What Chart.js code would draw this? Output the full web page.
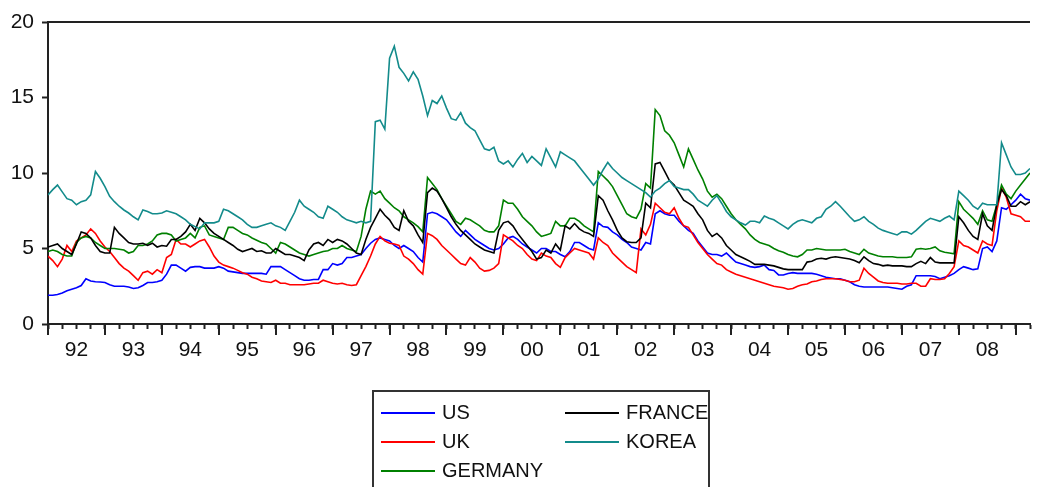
<!DOCTYPE html>
<html>
<head>
<meta charset="utf-8">
<script src="https://cdn.jsdelivr.net/npm/chart.js@4.4.1/dist/chart.umd.min.js"></script>
<style>
  html, body { margin: 0; padding: 0; background: #fff; overflow: hidden; }
  #wrap { position: relative; width: 1039px; height: 487px; }
  #chart { position: absolute; left: 0; top: 0; }
  #legend {
    position: absolute; left: 372px; top: 390px; width: 338px; height: 120px;
    border: 2px solid #333; box-sizing: border-box; padding: 6px 0 0 7px;
    display: grid; grid-template-columns: 184px 145px; grid-template-rows: repeat(3, 29px);
    grid-auto-flow: column; font: 20px "Liberation Sans", Arial, sans-serif; color: #111;
  }
  #legend .item { display: flex; align-items: center; white-space: nowrap; }
  #legend .swatch { flex: 0 0 54px; height: 2px; margin-right: 7px; }
</style>
</head>
<body>
<div id="wrap">
  <canvas id="chart" width="1039" height="487"></canvas>
  <div id="legend"></div>
</div>
<script>
  // monthly, 1992m1 .. 2009m4
  const yearLabels = ['92','93','94','95','96','97','98','99','00','01','02','03','04','05','06','07','08'];
  const yTicks = [0, 5, 10, 15, 20];

  const US = [
    1.9,1.9,1.95,2.05,2.2,2.3,2.4,2.55,3.0,2.85,2.8,2.78,
    2.75,2.6,2.5,2.5,2.5,2.45,2.35,2.4,2.55,2.75,2.75,2.8,
    2.9,3.3,3.9,3.9,3.7,3.5,3.75,3.8,3.8,3.7,3.7,3.7,
    3.8,3.7,3.5,3.45,3.4,3.35,3.35,3.35,3.35,3.35,3.3,3.8,
    3.8,3.8,3.6,3.4,3.2,3.0,2.9,2.9,2.95,2.95,3.6,3.6,
    4.0,3.9,4.0,4.4,4.4,4.5,4.6,5.0,5.35,5.6,5.7,5.6,
    5.5,5.2,5.0,5.2,5.0,4.8,4.4,4.1,7.3,7.4,7.3,7.1,
    6.9,6.5,6.1,5.8,6.2,5.9,5.6,5.4,5.2,5.0,4.9,5.0,
    5.3,5.7,5.8,5.6,5.3,5.1,4.9,4.7,5.0,5.0,4.8,4.8,
    4.6,4.45,4.8,5.4,5.4,5.2,5.0,4.9,6.7,6.45,6.4,6.1,
    5.9,5.6,5.4,5.1,5.0,4.9,5.4,5.3,7.3,7.5,7.3,7.2,
    7.2,6.8,6.5,6.2,6.0,5.5,5.1,4.7,4.6,4.6,4.5,4.7,
    4.4,4.1,4.0,3.9,3.8,3.75,3.8,3.9,3.6,3.55,3.25,3.25,
    3.35,3.4,3.35,3.35,3.35,3.35,3.3,3.2,3.1,3.05,3.0,3.0,
    2.9,2.8,2.6,2.5,2.45,2.45,2.45,2.45,2.45,2.45,2.4,2.35,
    2.3,2.5,2.6,3.2,3.2,3.2,3.2,3.15,3.0,3.1,3.2,3.35,
    3.6,3.8,3.7,3.6,3.65,5.0,5.1,4.8,5.5,7.7,7.6,7.9,
    8.2,8.6,8.3,8.2
  ];
  const UK = [
    4.5,4.2,3.8,4.3,5.2,4.8,5.5,5.7,5.9,6.3,6.0,5.5,
    5.1,4.8,4.4,4.0,3.7,3.5,3.2,2.9,3.4,3.5,3.3,3.6,
    3.4,4.4,4.6,5.6,5.3,5.3,5.1,5.3,5.5,5.6,5.1,4.5,
    4.1,3.9,3.8,3.7,3.55,3.4,3.3,3.1,3.0,2.85,2.8,2.75,
    2.9,2.7,2.7,2.6,2.6,2.6,2.6,2.65,2.7,2.7,2.9,2.8,
    2.7,2.65,2.7,2.6,2.55,2.6,3.2,3.8,4.5,5.3,5.8,5.5,
    5.35,5.3,5.2,4.5,4.3,4.0,3.6,3.3,6.0,5.85,5.6,5.2,
    4.9,4.6,4.3,4.0,3.9,4.4,4.1,3.7,3.5,3.55,3.7,4.0,
    5.9,5.7,5.5,5.2,5.0,4.6,4.3,4.2,4.7,4.5,4.4,4.0,
    3.75,4.4,4.7,5.0,4.9,4.8,4.7,4.3,5.7,5.4,5.2,4.7,
    4.4,4.1,3.8,3.6,3.4,6.3,5.9,6.6,8.0,7.7,7.4,7.3,
    7.7,7.0,6.5,6.4,5.9,5.4,5.0,4.6,4.3,4.0,3.9,3.6,
    3.45,3.3,3.2,3.1,3.0,2.9,2.8,2.7,2.6,2.5,2.45,2.4,
    2.3,2.35,2.5,2.6,2.65,2.8,2.85,2.95,3.0,3.0,3.0,2.95,
    2.9,2.8,2.8,2.9,3.7,3.35,3.1,2.85,2.75,2.7,2.7,2.7,
    2.65,2.65,2.7,2.7,2.5,2.5,3.0,2.95,2.95,3.0,3.35,3.8,
    5.5,5.2,5.1,4.9,4.7,5.5,5.3,5.2,7.5,9.0,8.4,7.3,
    7.2,7.1,6.8,6.8
  ];
  const GERMANY = [
    4.8,4.9,4.8,4.6,4.5,4.5,5.4,5.7,5.8,5.7,5.4,5.2,
    5.0,5.0,5.0,4.95,4.9,4.7,4.8,5.2,5.2,5.3,5.5,5.9,
    6.0,6.0,5.9,5.5,5.6,5.7,6.0,5.7,6.4,6.5,5.9,5.8,
    5.7,5.6,6.4,6.4,6.2,6.0,5.9,5.7,5.55,5.4,5.3,5.0,
    4.7,5.4,5.3,5.1,4.9,4.7,4.6,4.5,4.6,4.7,4.8,4.85,
    5.0,5.0,5.2,5.0,4.9,4.8,5.8,7.6,8.8,8.6,8.8,8.3,
    8.0,7.7,7.5,7.1,6.9,6.7,6.45,6.1,9.7,9.3,8.9,8.3,
    7.8,7.3,6.8,6.6,7.0,6.9,6.7,6.5,6.2,6.1,6.1,6.5,
    8.2,8.0,8.0,7.6,7.1,6.8,6.5,6.1,5.8,5.9,6.0,6.8,
    6.5,6.5,7.0,7.0,6.8,6.5,6.3,6.1,10.1,9.8,9.5,9.1,
    8.5,7.9,7.3,7.1,7.0,7.6,9.3,9.0,14.2,13.8,12.8,12.5,
    12.0,11.2,10.4,11.6,10.9,10.2,9.6,8.8,8.4,8.6,8.3,7.8,
    7.3,6.9,6.6,6.3,5.9,5.6,5.4,5.3,5.2,5.0,4.85,4.75,
    4.6,4.5,4.45,4.6,4.9,4.9,5.0,4.95,4.9,4.9,4.9,4.9,
    4.95,4.8,4.7,4.6,4.95,4.7,4.6,4.5,4.45,4.45,4.45,4.4,
    4.4,4.4,4.45,4.95,5.0,4.95,5.0,5.1,4.85,4.75,4.7,4.65,
    8.1,7.6,7.3,7.0,6.6,7.5,6.9,6.8,7.9,9.2,8.6,8.3,
    8.8,9.2,9.6,10.0
  ];
  const FRANCE = [
    5.1,5.2,5.3,5.0,4.8,4.6,5.3,6.1,6.0,5.7,5.2,4.8,
    4.7,4.7,6.4,6.0,5.7,5.4,5.3,5.3,5.35,5.2,5.35,5.1,
    5.2,5.15,5.6,5.6,5.8,6.1,6.6,6.2,7.0,6.7,6.3,6.0,
    5.8,5.6,5.4,5.2,4.95,4.8,4.9,5.0,4.8,4.85,4.7,4.7,
    5.0,4.8,4.6,4.6,4.5,4.4,4.2,4.9,5.3,5.4,5.2,5.6,
    5.4,5.6,5.5,5.3,5.0,4.7,4.6,5.6,6.4,7.0,7.6,7.2,
    6.9,6.4,6.2,7.5,6.8,6.5,5.9,5.4,8.7,9.0,8.8,8.3,
    7.7,7.1,6.6,6.2,5.9,5.6,5.3,5.1,4.9,4.8,4.7,6.2,
    6.7,6.8,6.5,6.0,5.6,5.2,4.8,4.3,4.4,4.9,4.7,5.3,
    4.9,6.5,6.3,6.65,6.3,6.1,6.0,5.8,8.5,8.2,7.5,6.9,
    6.2,5.7,5.45,5.4,5.4,5.7,8.0,7.7,10.6,10.7,10.1,9.5,
    9.2,8.7,8.2,8.0,7.8,7.3,6.9,6.2,5.8,6.0,5.7,5.2,
    4.9,4.6,4.45,4.3,4.15,3.95,3.95,3.95,3.9,3.85,3.75,3.65,
    3.6,3.6,3.6,3.6,4.1,4.15,4.3,4.35,4.3,4.4,4.45,4.4,
    4.35,4.3,4.2,4.05,4.45,4.2,4.0,3.95,3.85,3.9,3.85,3.85,
    3.85,3.8,3.8,4.0,4.15,4.0,4.4,4.1,4.05,4.05,4.05,4.05,
    7.1,6.7,6.2,5.8,5.6,7.3,6.5,6.2,7.9,8.9,8.5,7.8,
    7.8,8.1,7.9,8.1
  ];
  const KOREA = [
    8.55,8.9,9.2,8.75,8.3,8.2,7.9,8.1,8.2,8.55,10.1,9.65,
    9.1,8.45,8.1,7.8,7.55,7.35,7.1,6.9,7.55,7.45,7.3,7.3,
    7.35,7.5,7.4,7.3,7.1,6.9,6.6,6.45,6.3,6.7,6.7,6.7,
    6.8,7.6,7.5,7.3,7.1,6.9,6.6,6.4,6.4,6.5,6.6,6.7,
    6.5,6.4,6.2,6.8,7.4,8.2,7.8,7.6,7.4,7.1,7.0,7.8,
    7.6,7.4,7.1,6.9,6.8,6.7,6.8,6.7,6.8,13.4,13.5,12.9,
    17.6,18.4,17.0,16.6,16.1,16.7,16.2,15.1,13.8,14.8,14.6,15.1,
    14.3,13.6,13.5,14.0,13.3,13.0,12.8,12.2,11.6,11.5,11.7,10.8,
    10.6,10.8,10.4,10.9,11.3,10.7,11.1,10.8,10.5,11.6,11.0,10.4,
    11.4,11.2,11.0,10.8,10.4,10.0,9.6,9.2,9.6,10.2,10.7,10.3,
    10.0,9.7,9.5,9.3,9.1,8.9,8.7,8.4,8.8,9.0,9.3,9.5,
    9.1,9.0,8.9,8.9,8.6,8.2,8.0,7.8,8.2,8.5,8.0,7.45,
    7.1,6.9,6.7,6.55,6.8,6.8,6.7,7.15,7.0,6.9,6.7,6.5,
    6.3,6.6,6.8,6.9,6.8,6.7,7.0,7.1,7.6,7.8,8.1,7.8,
    7.45,7.1,6.8,6.9,7.1,6.8,6.6,6.35,6.2,6.1,6.0,5.9,
    6.1,6.1,5.95,6.2,6.5,6.8,7.0,6.9,6.8,7.0,7.15,6.9,
    8.8,8.5,8.2,7.8,7.6,8.0,7.9,7.9,7.9,12.0,11.2,10.4,
    9.9,9.9,10.0,10.3
  ];

  const seriesNames = ['US', 'UK', 'GERMANY', 'FRANCE', 'KOREA'];
  const seriesData = [US, UK, GERMANY, FRANCE, KOREA];
  const seriesColors = ['#0000ff', '#ff0000', '#008000', '#000000', '#138b8b'];

  const axisFont = { family: '"Liberation Sans", Arial, sans-serif', size: 21 };
  const axisColor = '#222';
  const lastMonth = US.length - 1;

  const quarterTicks = [];
  for (let m = 0; m <= lastMonth; m += 3) quarterTicks.push({ value: m });

  // top frame line and the longer year ticks
  const frame = {
    id: 'frame',
    afterDraw(chart) {
      const { ctx, chartArea, scales } = chart;
      ctx.save();
      ctx.strokeStyle = axisColor;
      ctx.lineWidth = 2;
      ctx.beginPath();
      ctx.moveTo(chartArea.left - 1, chartArea.top);
      ctx.lineTo(chartArea.right, chartArea.top);
      for (let m = 0; m <= lastMonth; m += 12) {
        const x = Math.round(scales.x.getPixelForValue(m));
        ctx.moveTo(x, chartArea.bottom);
        ctx.lineTo(x, chartArea.bottom + 11);
      }
      ctx.stroke();
      ctx.restore();
    }
  };

  const chart = new Chart(document.getElementById('chart').getContext('2d'), {
    type: 'line',
    data: {
      datasets: seriesNames.map((name, i) => ({
        label: name,
        data: seriesData[i].map((v, m) => ({ x: m, y: v })),
        borderColor: seriesColors[i],
        backgroundColor: seriesColors[i],
        borderWidth: 1.6,
        pointRadius: 0,
        tension: 0,
        order: seriesNames.length - i
      }))
    },
    options: {
      responsive: false,
      animation: false,
      layout: { padding: { top: 22, right: 0, bottom: 0, left: 0 } },
      plugins: { legend: { display: false }, tooltip: { enabled: false } },
      scales: {
        x: {
          type: 'linear',
          min: 0,
          max: lastMonth,
          afterFit(scale) { scale.height = 163; },
          afterBuildTicks(scale) { scale.ticks = quarterTicks.map(t => ({ value: t.value })); },
          grid: { drawOnChartArea: false, tickLength: 5, tickWidth: 2, tickColor: axisColor },
          border: { color: axisColor, width: 2 },
          ticks: {
            autoSkip: false,
            maxRotation: 0,
            padding: 9,
            font: axisFont,
            color: '#111',
            callback: (v) => (v % 12 === 6 ? yearLabels[(v - 6) / 12] : '')
          }
        },
        y: {
          min: 0,
          max: 20,
          afterFit(scale) { scale.width = 48; },
          afterBuildTicks(scale) { scale.ticks = yTicks.map(v => ({ value: v })); },
          grid: { drawOnChartArea: false, tickLength: 6, tickWidth: 2, tickColor: axisColor },
          border: { color: axisColor, width: 2 },
          ticks: { padding: 8, font: axisFont, color: '#111' }
        }
      }
    },
    plugins: [frame]
  });

  const legend = document.getElementById('legend');
  chart.data.datasets.forEach(ds => {
    const item = document.createElement('div');
    item.className = 'item';
    item.innerHTML = '<span class="swatch" style="background:' + ds.borderColor + '"></span><span>' + ds.label + '</span>';
    legend.appendChild(item);
  });
</script>
</body>
</html>
